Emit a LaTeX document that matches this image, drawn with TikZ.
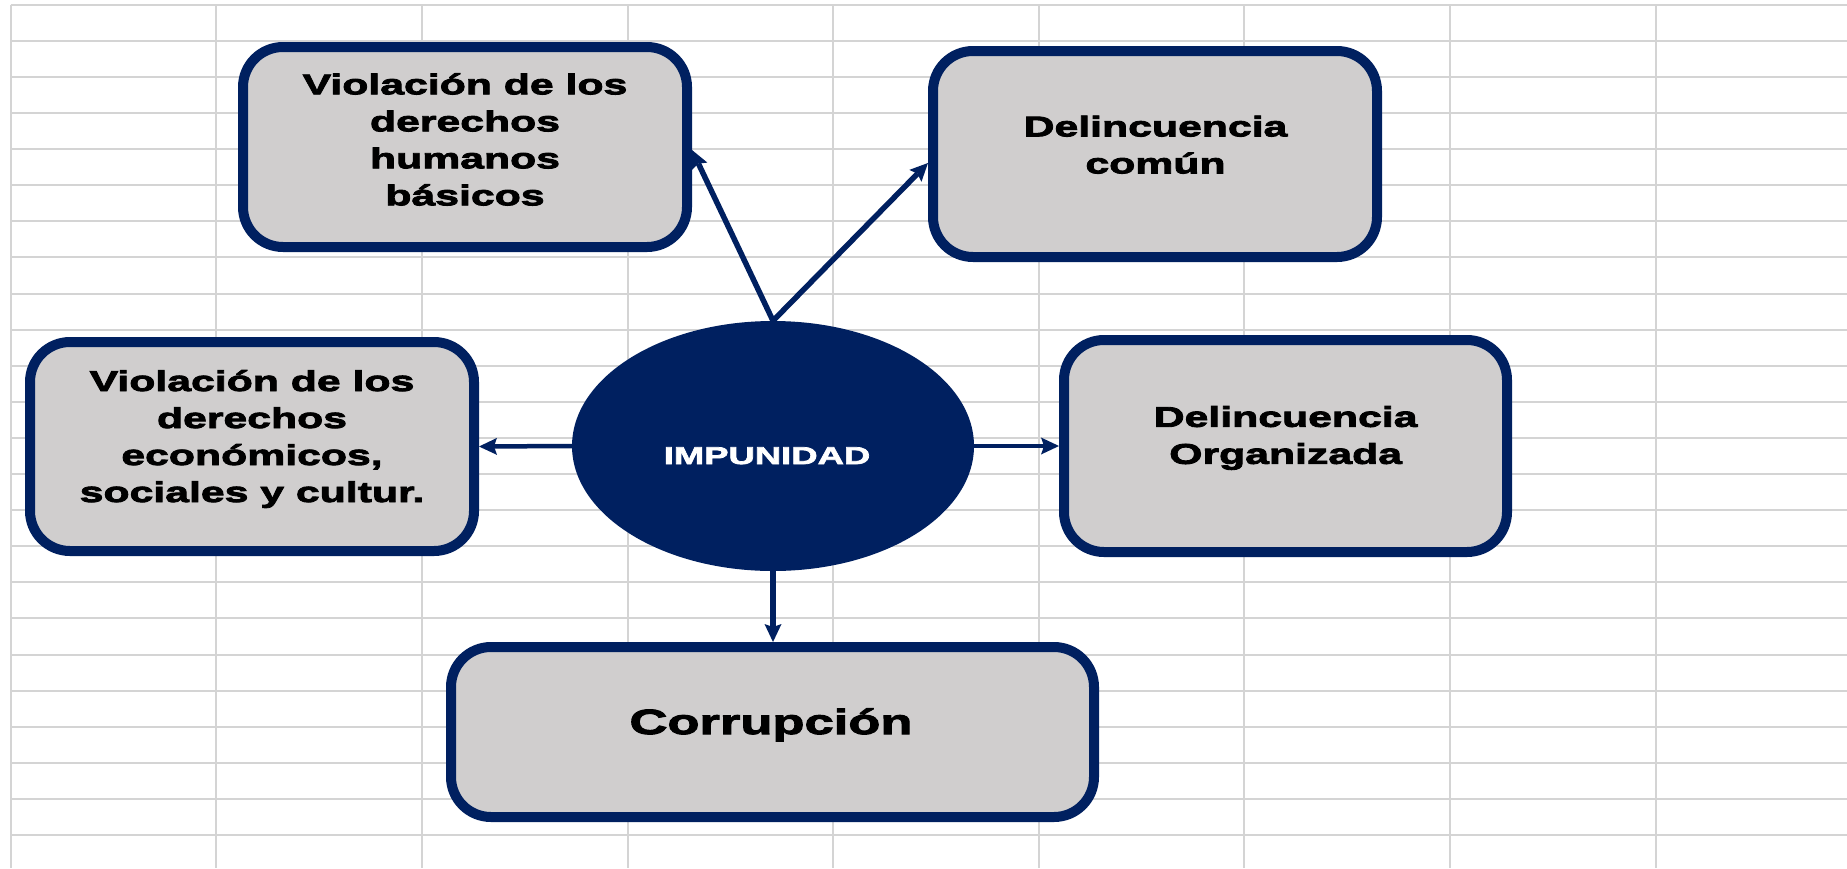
\documentclass[tikz,border=0pt]{standalone}
\usepackage{fontspec}
\usetikzlibrary{shapes.geometric,arrows.meta}
\newfontfamily\bxfont{Liberation Sans}[FakeStretch=1.5,FakeBold=3]
\definecolor{navy}{HTML}{002060}
\definecolor{boxgray}{HTML}{D0CECE}
\definecolor{gridgray}{HTML}{D4D4D4}
\begin{document}
\begin{tikzpicture}[x=1pt,y=-1pt,
  gridline/.style={draw=gridgray,line width=2pt},
  box/.style={draw=navy,fill=boxgray,line width=10pt,rounded corners=40pt,inner sep=0pt},
  txt/.style={font=\bxfont\bfseries\fontsize{28.5}{37}\selectfont,align=center,inner sep=0pt,text=black},
  arr/.style={draw=navy,-{Stealth[length=18pt,width=17pt,inset=3pt,line width=0pt]}}]
\useasboundingbox (0,0) rectangle (1847,868);
\fill[white] (0,0) rectangle (1847,868);
% spreadsheet grid
\foreach \k in {0,...,23}
  \draw[gridline] (10.7,{4.7+36.1*\k}) -- (1847,{4.7+36.1*\k});
\foreach \k in {0,...,8}
  \draw[gridline] ({10.7+205.6*\k},4.7) -- ({10.7+205.6*\k},868);
% boxes
\node[box,minimum width=444pt,minimum height=200pt] (b1) at (465,147) {};
\node[box,minimum width=444pt,minimum height=206pt] (b2) at (1155,154) {};
\node[box,minimum width=444pt,minimum height=209pt] (b3) at (252,446.5) {};
\node[box,minimum width=443pt,minimum height=212pt] (b4) at (1285.5,446) {};
\node[box,minimum width=643pt,minimum height=170pt] (b5) at (772.5,732) {};
% central ellipse
\node[ellipse,fill=navy,minimum width=402pt,minimum height=250pt,inner sep=0pt] (imp) at (773,446) {};
% texts
\node[txt] (t1) at (465,139.5) {Violación de los\\derechos\\humanos\\básicos};
\node[txt] (t2) at (1155.5,144.7) {Delincuencia\\común};
\node[txt] (t3) at (252,439) {Violación de los\\derechos\\económicos,\\sociales y cultur.};
\node[txt] (t4) at (1285.6,438) {Delincuencia\\Organizada};
\node[txt,font=\bxfont\bfseries\fontsize{35}{40}\selectfont,anchor=base] (t5) at (771,734) {Corrupción};
\node[txt,text=white,font=\bxfont\bfseries\fontsize{24.3}{28}\selectfont,anchor=base] (t6) at (767,464) {IMPUNIDAD};
% connectors
\draw[arr,line width=5.5pt] (imp.north) -- ([yshift=-3pt]b1.east);
\draw[arr,line width=5.5pt] (imp.north) -- ([yshift=-9pt]b2.west);
\draw[arr,line width=4.5pt] (imp.west) -- (b3.east);
\draw[arr,line width=4.5pt] (imp.east) -- (b4.west);
\draw[arr,line width=6pt] (imp.south) -- (imp.south |- b5.north);
\end{tikzpicture}
\end{document}
